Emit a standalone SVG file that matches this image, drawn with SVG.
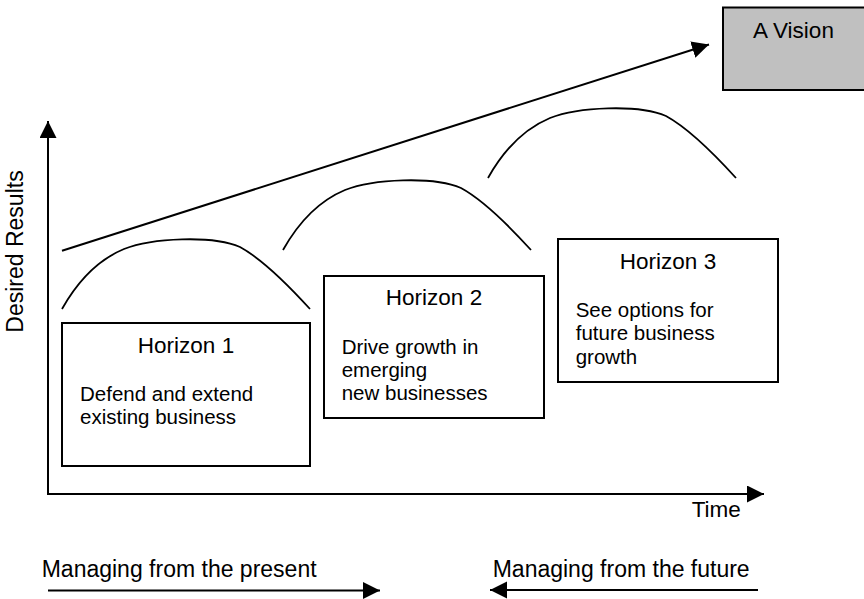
<svg xmlns="http://www.w3.org/2000/svg" width="864" height="599" viewBox="0 0 864 599">
<style>
text{font-family:"Liberation Sans",Arial,sans-serif;fill:#000}
.t{font-size:22.5px}
.l{font-size:23px}
.b{font-size:20.5px}
.box{fill:#fff;stroke:#000;stroke-width:2}
.ln{fill:none;stroke:#000;stroke-width:2}
.cv{fill:none;stroke:#000;stroke-width:1.8}
</style>
<defs>
<marker id="ah" markerUnits="userSpaceOnUse" markerWidth="18" markerHeight="18" refX="17" refY="8.5" orient="auto"><path d="M0,0 L17,8.5 L0,17 Z" fill="#000"/></marker>
<path id="hump" d="M0,0 C18,-32 38,-50 62,-60 C90,-71 150,-74 178,-62 C200,-50 228,-22 248,0"/>
</defs>
<rect width="864" height="599" fill="#fff"/>
<g id="connectors">
<line class="ln" x1="48" y1="494" x2="48" y2="121" marker-end="url(#ah)"/>
<line class="ln" x1="47" y1="494" x2="764" y2="494" marker-end="url(#ah)"/>
<line class="ln" x1="62" y1="250.7" x2="709" y2="44.5" marker-end="url(#ah)"/>
<line class="ln" x1="48" y1="590.5" x2="380" y2="590.5" marker-end="url(#ah)"/>
<line class="ln" x1="758" y1="590" x2="490" y2="590" marker-end="url(#ah)"/>
<use href="#hump" class="cv" x="62" y="309"/>
<use href="#hump" class="cv" x="283" y="250"/>
<use href="#hump" class="cv" x="488" y="178"/>
</g>
<g id="vision">
<rect x="723" y="7.5" width="150" height="82.5" fill="#c0c0c0" stroke="#000" stroke-width="2"/>
<text class="t" x="753" y="38.3">A Vision</text>
</g>
<g id="horizon1">
<rect class="box" x="62" y="323" width="248" height="143"/>
<text class="t" x="186" y="352.7" text-anchor="middle">Horizon 1</text>
<text class="b" x="80" y="400.7">Defend and extend</text>
<text class="b" x="80" y="424">existing business</text>
</g>
<g id="horizon2">
<rect class="box" x="324" y="276" width="220" height="142"/>
<text class="t" x="434" y="305" text-anchor="middle">Horizon 2</text>
<text class="b" x="341.7" y="354">Drive growth in</text>
<text class="b" x="341.7" y="377">emerging</text>
<text class="b" x="341.7" y="400">new businesses</text>
</g>
<g id="horizon3">
<rect class="box" x="558" y="239" width="220" height="143"/>
<text class="t" x="668" y="269" text-anchor="middle">Horizon 3</text>
<text class="b" x="575.7" y="316.7">See options for</text>
<text class="b" x="575.7" y="340.3">future business</text>
<text class="b" x="575.7" y="364">growth</text>
</g>
<g id="labels">
<text class="l" transform="translate(23,251.5) rotate(-90)" text-anchor="middle">Desired Results</text>
<text class="t" x="691.7" y="517">Time</text>
<text class="l" x="41.7" y="576.7">Managing from the present</text>
<text class="l" x="492.7" y="576.7">Managing from the future</text>
</g>
</svg>
